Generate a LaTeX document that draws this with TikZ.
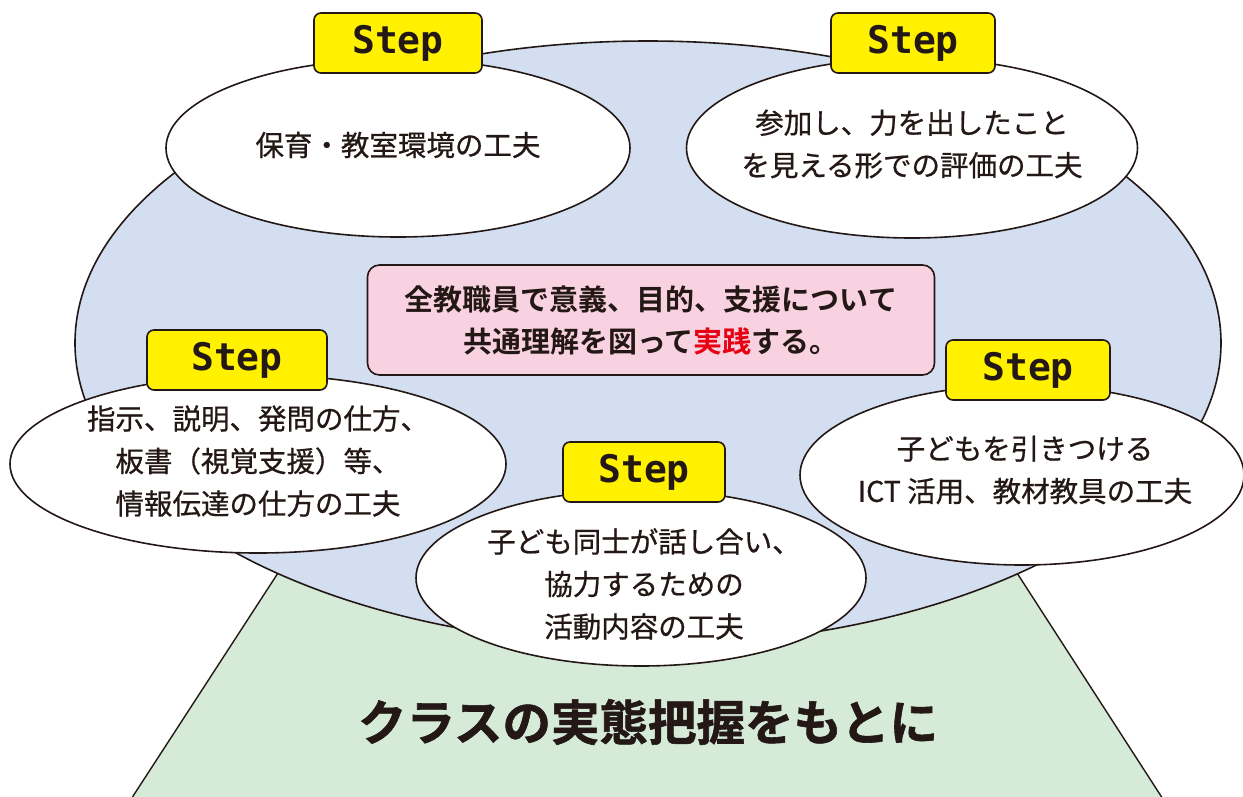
\documentclass[tikz,border=0pt]{standalone}
\usepackage{fontspec}
\setmainfont{Noto Sans CJK JP}[BoldFont={Noto Sans CJK JP Bold}]
\newfontfamily\medfont{Noto Sans CJK JP}[FakeBold=0.7]
\newfontfamily\heavyfont{Noto Sans CJK JP Bold}[FakeBold=1.2]
\newfontfamily\stepfont{DejaVu Sans Mono}
\usetikzlibrary{shapes.geometric}
\definecolor{ink}{HTML}{231815}
\definecolor{bluefill}{HTML}{D3DEF0}
\definecolor{greenfill}{HTML}{D5EAD7}
\definecolor{pinkfill}{HTML}{F9D2E2}
\definecolor{stepyellow}{HTML}{FFF100}
\definecolor{accentred}{HTML}{E60012}
\tikzset{
  oval/.style={draw=ink, line width=1.6pt, fill=white, ellipse, inner sep=0pt},
  stepbox/.style={draw=ink, line width=1.6pt, fill=stepyellow, rounded corners=7pt,
    minimum height=60pt, text=ink, font=\stepfont\bfseries\fontsize{38}{40}\selectfont, inner sep=0pt},
  body/.style={text=ink, align=center, font=\medfont\fontsize{28.5}{42.5}\selectfont, inner sep=0pt},
}
\begin{document}
\begin{tikzpicture}[x=1pt,y=-1pt]
\useasboundingbox (0,0) rectangle (1243,796);
% green base
\coordinate (gl1) at (278,573); \coordinate (gl2) at (124,810);
\coordinate (gr1) at (1017,573); \coordinate (gr2) at (1170,810);
\fill[greenfill] (gl1) -- (gr1) -- (gr2) -- (gl2) -- cycle;
\draw[ink, line width=1.4pt] (gl1) -- (gl2);
\draw[ink, line width=1.4pt] (gr1) -- (gr2);
% big blue ellipse
\node[draw=ink, line width=1.6pt, fill=bluefill, ellipse, minimum width=1146pt, minimum height=604pt, inner sep=0pt] (big) at (648,343) {};
% white ovals
\node[oval, minimum width=464pt, minimum height=178pt] (o1) at (398,148) {};
\node[oval, minimum width=451pt, minimum height=180pt] (o2) at (912,148) {};
\node[oval, minimum width=496pt, minimum height=178pt] (o3) at (258,464) {};
\node[oval, minimum width=444pt, minimum height=180pt] (o4) at (1022,475) {};
\node[oval, minimum width=450pt, minimum height=176pt] (o5) at (641,578) {};
% texts
\node[body] (t1) at (398,145) {保育・教室環境の工夫};
\node[body] (t2) at (912,144) {参加し、力を出したこと\\を見える形での評価の工夫};
\node[body] (t3) at (258,461) {指示、説明、発問の仕方、\\板書（視覚支援）等、\\情報伝達の仕方の工夫};
\node[body] (t4) at (1025,470) {子どもを引きつける\\ICT 活用、教材教具の工夫};
\node[body] (t5) at (644,584) {子ども同士が話し合い、\\協力するための\\活動内容の工夫};
% step boxes
\node[stepbox, minimum width=168pt] (s1) at (398,43) {Step};
\node[stepbox, minimum width=164pt] (s2) at (913,43) {Step};
\node[stepbox, minimum width=180pt] (s3) at (237,360) {Step};
\node[stepbox, minimum width=164pt] (s4) at (1028,370) {Step};
\node[stepbox, minimum width=162pt] (s5) at (644,472) {Step};
% central pink box
\node[draw=ink, line width=1.6pt, fill=pinkfill, rounded corners=12pt, minimum width=567pt, minimum height=110pt,
  text=ink, align=center, font=\bfseries\fontsize{29}{42}\selectfont, inner sep=0pt] (center) at (651,320)
  {全教職員で意義、目的、支援について\\共通理解を図って\textcolor{accentred}{実践}する。};
% base caption
\node[text=ink, font=\heavyfont\fontsize{48.5}{52}\selectfont, inner sep=0pt] (base) at (648,722) {クラスの実態把握をもとに};
\end{tikzpicture}
\end{document}
